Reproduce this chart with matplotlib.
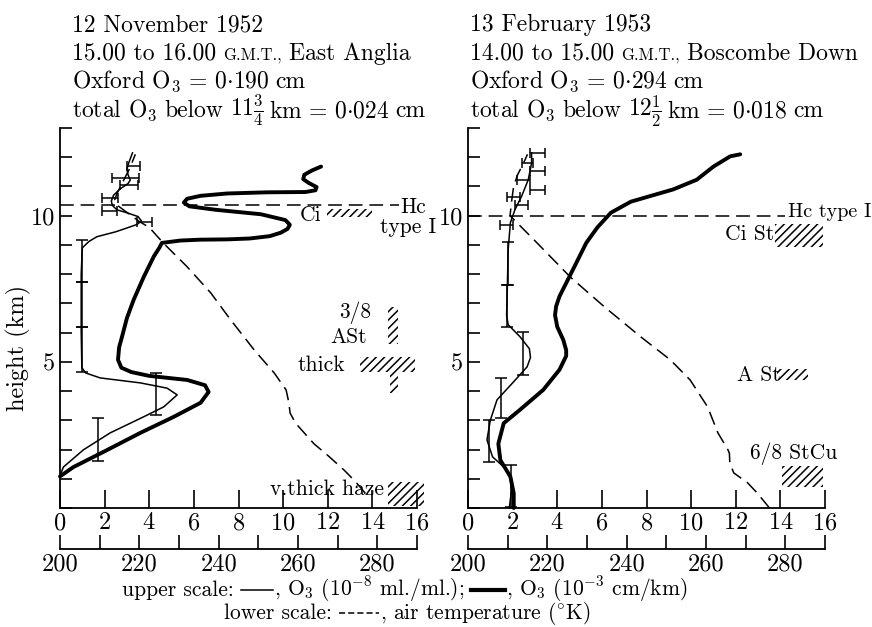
import matplotlib
matplotlib.use("Agg")
import matplotlib.pyplot as plt
from matplotlib.patches import Rectangle
from matplotlib.lines import Line2D

plt.rcParams['font.family'] = ['cmr10', 'DejaVu Serif']
plt.rcParams['mathtext.fontset'] = 'cm'
plt.rcParams['axes.unicode_minus'] = False
plt.rcParams['axes.formatter.use_mathtext'] = True
plt.rcParams['hatch.linewidth'] = 1.1

# ---------------- 12 November 1952 (left panel) ----------------
nov_thick_o3 = [0.0, 0.6, 1.95, 3.6, 5.1, 6.3, 6.66, 6.5, 5.7, 4.0, 3.2, 2.75, 2.6, 2.65, 2.78, 3.0, 3.3,
                3.75, 4.2, 4.45, 4.57, 5.4, 6.3, 7.5, 8.5, 9.4, 9.9, 10.2, 10.3, 10.1, 9.0, 7.0, 5.8, 5.55,
                5.7, 6.3, 7.5, 9.3, 11.0, 11.45, 11.5, 11.15, 10.9, 10.95, 11.3, 11.7]
nov_thick_h = [1.08, 1.4, 1.92, 2.57, 3.12, 3.6, 3.97, 4.2, 4.38, 4.52, 4.65, 4.8, 5.07, 5.5, 5.86, 6.5, 7.12,
               7.9, 8.6, 8.9, 9.07, 9.15, 9.18, 9.19, 9.22, 9.3, 9.42, 9.55, 9.69, 9.85, 10.05, 10.2, 10.32, 10.45,
               10.58, 10.68, 10.76, 10.8, 10.81, 10.87, 10.98, 11.12, 11.25, 11.4, 11.55, 11.68]
nov_thin_o3 = [0.0, 0.15, 1.05, 2.25, 3.75, 4.65, 5.25, 4.8, 3.6, 1.8, 1.15, 0.98, 0.95, 0.95, 1.0, 1.3, 1.65,
               2.5, 3.0, 3.45, 3.65, 3.5, 3.0, 2.55, 2.35, 2.3, 2.4, 2.7, 3.05, 3.15, 3.05, 3.0, 3.1, 3.25]
nov_thin_h = [1.1, 1.4, 1.99, 2.57, 3.12, 3.46, 3.87, 4.1, 4.28, 4.45, 4.62, 4.8, 6.0, 8.0, 8.9, 9.12, 9.28,
              9.45, 9.58, 9.7, 9.82, 9.97, 10.1, 10.2, 10.35, 10.5, 10.7, 10.92, 11.1, 11.22, 11.4, 11.6, 11.85, 12.15]
nov_temp = [277, 274.5, 271.6, 267.5, 264, 259.4, 258, 257.7, 257, 254, 249, 243, 238, 232, 226, 222.5,
            220, 217, 214.3, 213.8, 214.5, 216, 217.5, 219]
nov_temp_h = [0.5, 0.9, 1.3, 1.8, 2.2, 2.9, 3.25, 3.6, 4.04, 4.62, 5.4, 6.44, 7.36, 8.26, 9.07, 9.6,
              9.8, 10.1, 10.37, 10.55, 10.8, 11.2, 11.6, 12.1]
nov_vbar_o3 = [0.98, 0.98, 0.98, 4.3, 1.72]
nov_vbar_lo = [7.74, 6.2, 4.66, 3.18, 1.6]
nov_vbar_hi = [9.18, 7.74, 6.2, 4.62, 3.08]
nov_hbar_h = [11.69, 11.29, 11.06, 10.6, 10.15, 9.8]
nov_hbar_lo = [3.0, 2.32, 2.7, 1.87, 1.87, 3.45]
nov_hbar_hi = [3.6, 3.52, 3.5, 2.62, 2.55, 4.12]
nov_hc_h = 10.38
nov_hc_end = 15.2

# ---------------- 13 February 1953 (right panel) ----------------
feb_thick_o3 = [2.05, 2.05, 1.9, 1.45, 1.36, 1.6, 2.33, 3.37, 4.1, 4.4, 4.4, 4.27, 4.0, 3.9, 3.95, 4.1, 4.7,
                5.3, 5.8, 6.4, 7.3, 9.2, 10.25, 11.0, 11.75, 12.2]
feb_thick_h = [0.0, 0.5, 1.07, 1.64, 2.2, 2.9, 3.36, 4.04, 4.73, 5.2, 5.4, 5.75, 6.2, 6.6, 6.9, 7.24, 8.15,
               9.07, 9.6, 10.1, 10.48, 10.9, 11.23, 11.68, 12.03, 12.1]
feb_thin_o3 = [1.85, 1.95, 1.9, 1.75, 1.1, 0.85, 1.0, 1.3, 2.0, 2.65, 2.8, 2.75, 2.33, 1.8, 1.73, 1.75, 1.8,
               1.9, 2.1, 2.4, 2.7, 2.85, 2.85]
feb_thin_h = [0.0, 0.6, 1.0, 1.3, 1.75, 2.33, 3.0, 3.7, 4.28, 4.83, 5.15, 5.45, 5.86, 6.27, 6.6, 7.12, 8.84,
              9.76, 10.2, 10.66, 11.23, 11.8, 12.15]
feb_temp = [276, 273, 270.5, 267, 266, 265.9, 265.5, 263, 260.4, 256, 251, 243.5, 234.4, 225.8, 217.4,
            210.6, 211, 211.5, 212.5, 214, 215]
feb_temp_h = [0.0, 0.5, 0.86, 1.2, 1.54, 1.87, 2.0, 2.57, 3.46, 4.38, 5.07, 5.86, 6.88, 7.9, 9.07,
              10.0, 10.5, 11.0, 11.4, 11.8, 12.1]
feb_vbar_o3 = [2.47, 1.47, 0.95, 1.93, 1.75, 1.78]
feb_vbar_lo = [4.55, 3.08, 1.58, 0.05, 6.2, 7.64]
feb_vbar_hi = [6.03, 4.45, 3.0, 1.47, 7.64, 9.1]
feb_hbar_h = [12.15, 11.8, 11.52, 11.23, 10.89, 10.64, 10.35, 9.69]
feb_hbar_lo = [2.78, 2.4, 2.78, 2.18, 2.78, 1.73, 2.1, 1.43]
feb_hbar_hi = [3.45, 2.93, 3.45, 2.78, 3.45, 2.33, 2.7, 2.03]
feb_hc_h = 10.0
feb_hc_end = 14.2

upper_ticks = list(range(0, 17, 2))
lower_ticks = list(range(200, 291, 10))
lower_labels = [str(t) if t % 20 == 0 and t < 290 else '' for t in lower_ticks]
height_ticks = list(range(0, 14))
height_labels = [str(h) if h in (5, 10) else '' for h in height_ticks]

W, H = 872, 627
FS = 17.5     # tick labels, axis label
HFS = 17      # header text
LFS = 15.5    # legend text
NFS = 15.5    # cloud notes
fig = plt.figure(figsize=(W / 100, H / 100), dpi=100)
renderer = fig.canvas.get_renderer()
dash = (0, (9, 4.5))


def fx(px):
    return px / W


def fy(py):
    return 1 - py / H


def panel(x0, thick_o3, thick_h, thin_o3, thin_h, temp, temp_h,
          vx, vlo, vhi, hh, hlo, hhi, hc_h, hc_end):
    ax = fig.add_axes([fx(x0), fy(508), 357 / W, 380 / H])
    ax.set_xlim(0, 16)
    ax.set_ylim(0, 13)
    for s in ('top', 'right'):
        ax.spines[s].set_visible(False)
    for s in ('left', 'bottom'):
        ax.spines[s].set_linewidth(1.3)
    ax.set_xticks(upper_ticks)
    ax.set_yticks(height_ticks)
    ax.set_yticklabels(height_labels)
    ax.tick_params(axis='x', direction='in', length=13, width=1.2, pad=3, labelsize=FS)
    ax.tick_params(axis='y', direction='in', length=8.5, width=1.2, pad=3.5, labelsize=FS)

    ax.plot(thick_o3, thick_h, color='k', lw=2.8, solid_capstyle='round', clip_on=False)
    ax.plot(thin_o3, thin_h, color='k', lw=1.1, clip_on=False)
    vmid = [(a + b) / 2 for a, b in zip(vlo, vhi)]
    verr = [(b - a) / 2 for a, b in zip(vlo, vhi)]
    ax.errorbar(vx, vmid, yerr=verr, fmt='none', ecolor='k', elinewidth=1.1, capsize=4.5, capthick=1.1)
    hmid = [(a + b) / 2 for a, b in zip(hlo, hhi)]
    herr = [(b - a) / 2 for a, b in zip(hlo, hhi)]
    ax.errorbar(hmid, hh, xerr=herr, fmt='none', ecolor='k', elinewidth=1.1, capsize=3.5, capthick=1.1)
    ax.plot([0, hc_end], [hc_h, hc_h], color='k', lw=1.1, linestyle=dash)

    axt = ax.twiny()
    axt.set_xlim(200, 290)
    axt.xaxis.set_ticks_position('bottom')
    axt.xaxis.set_label_position('bottom')
    axt.spines['bottom'].set_position(('outward', 29.5))
    for s in ('top', 'right', 'left'):
        axt.spines[s].set_visible(False)
    axt.spines['bottom'].set_linewidth(1.3)
    axt.set_xticks(lower_ticks)
    axt.set_xticklabels(lower_labels)
    axt.tick_params(axis='x', direction='in', length=10, width=1.2, pad=3, labelsize=FS)
    axt.plot(temp, temp_h, color='k', lw=1.1, linestyle=dash, clip_on=False)
    return ax


ax_l = panel(60, nov_thick_o3, nov_thick_h, nov_thin_o3, nov_thin_h, nov_temp, nov_temp_h,
             nov_vbar_o3, nov_vbar_lo, nov_vbar_hi, nov_hbar_h, nov_hbar_lo, nov_hbar_hi, nov_hc_h, nov_hc_end)
ax_r = panel(468, feb_thick_o3, feb_thick_h, feb_thin_o3, feb_thin_h, feb_temp, feb_temp_h,
             feb_vbar_o3, feb_vbar_lo, feb_vbar_hi, feb_hbar_h, feb_hbar_lo, feb_hbar_hi, feb_hc_h, feb_hc_end)


def chain(x, y, parts, size=HFS):
    # parts: ('t', text, fontsize or None, gap after) or ('l', linewidth, linestyle, length, gap after)
    for p in parts:
        if p[0] == 't':
            t = fig.text(fx(x), fy(y), p[1], va='baseline', ha='left', fontsize=p[2] or size)
            x = t.get_window_extent(renderer).x1 + p[3]
        else:
            yy = fy(y - 6)
            fig.add_artist(Line2D([fx(x), fx(x + p[3])], [yy, yy], color='k', lw=p[1],
                                  linestyle=p[2], transform=fig.transFigure))
            x = x + p[3] + p[4]


# header text
for x0, date, t0, t1, place, oxf, frac, below in [
        (72, "12 November 1952", "15.00", "16.00", "East Anglia", "190", r"11\frac{3}{4}", "024"),
        (470, "13 February 1953", "14.00", "15.00", "Boscombe Down", "294", r"12\frac{1}{2}", "018")]:
    chain(x0, 31, [('t', date, None, 0)])
    chain(x0, 60, [('t', t0 + " to " + t1, None, 7), ('t', "G.M.T.,", 12, 7), ('t', place, None, 0)])
    chain(x0, 88, [('t', r"Oxford O$_3\,{=}\,0{\cdot}" + oxf + "$", None, 6), ('t', "cm", None, 0)])
    chain(x0, 117, [('t', r"total O$_3$", None, 7), ('t', "below", None, 7),
                    ('t', "$" + frac + r"$", None, 5), ('t', r"km$\,{=}\,0{\cdot}" + below + "$", None, 6),
                    ('t', "cm", None, 0)])

fig.text(fx(18), fy(348), "height (km)", rotation=90, va='center', ha='center', fontsize=FS)

# legend lines at the bottom
chain(122, 596, [('t', "upper scale:", None, 7), ('l', 1.1, '-', 32, 1), ('t', r", O$_3$ (10$^{-8}$ ml./ml.);", None, 7),
                 ('l', 3.0, '-', 34, 1), ('t', r", O$_3$ (10$^{-3}$ cm/km)", None, 0)], size=LFS)
chain(224, 619, [('t', "lower scale:", None, 7), ('l', 1.1, (0, (4, 2)), 40, 1),
                 ('t', r", air temperature ($^{\circ}$K)", None, 0)], size=LFS)


def note(x, y, s, ha='left', size=NFS):
    fig.text(fx(x), fy(y), s, ha=ha, va='center', fontsize=size)


def hatch(x0, y0, x1, y1):
    fig.add_artist(Rectangle((fx(x0), fy(y1)), (x1 - x0) / W, (y1 - y0) / H, transform=fig.transFigure,
                             fill=False, hatch='////', edgecolor='k', lw=0))


# cloud notes, left panel
note(400, 207, "Hc")
note(436, 227, "type I", ha='right')
note(300, 215, "Ci")
hatch(327, 209, 372, 217)
note(355, 313, "3/8", ha='center')
note(349, 337, "ASt", ha='center')
hatch(388, 307, 398, 344)
note(298, 365, "thick")
hatch(360, 357, 415, 372)
hatch(390, 372, 398, 393)
note(270, 489, "v.thick haze")
hatch(388, 482, 424, 506)

# cloud notes, right panel
note(788, 212, "Hc type I", size=14.5)
note(725, 234, "Ci St")
hatch(775, 224, 823, 247)
note(737, 375, "A St")
hatch(777, 369, 808, 380)
note(750, 454, "6/8 StCu")
hatch(782, 466, 823, 487)

fig.savefig("out.png", dpi=100)
